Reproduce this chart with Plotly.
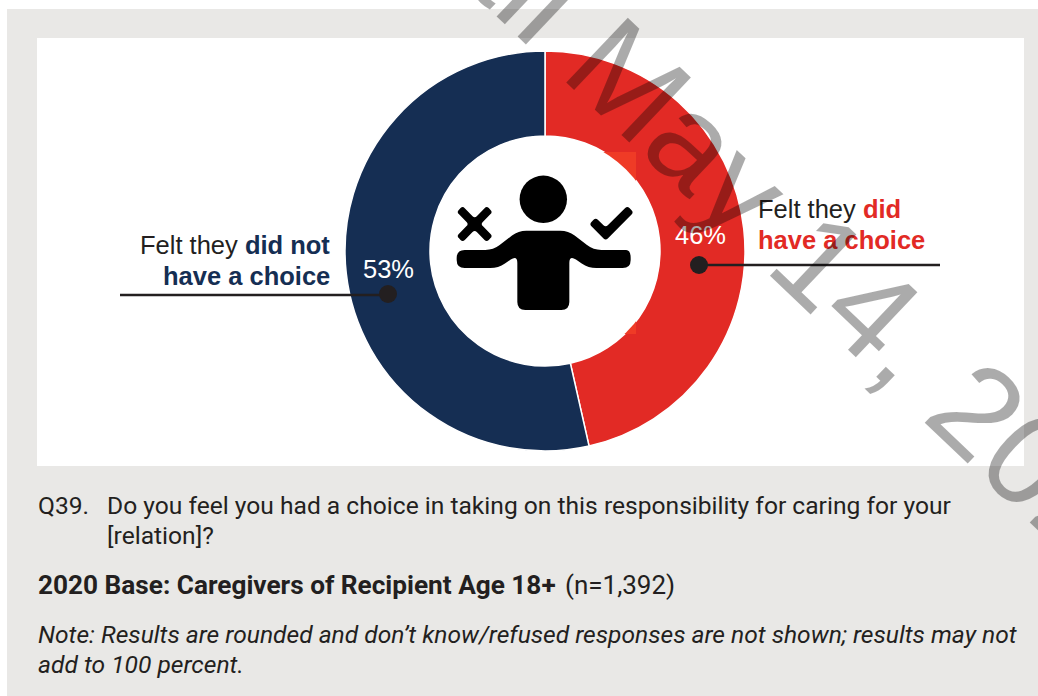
import plotly.graph_objects as go

W, H = 1038, 696

categories = ["Felt they did have a choice", "Felt they did not have a choice"]
values = [46, 53]
colors = ["#e22a25", "#152e53"]
TEXT = "#231f20"
PANEL = "#e9e8e6"


def fx(x):
    return x / W


def fy(y):
    return 1 - y / H


def rect(x0, y0, x1, y1, fill, layer="below"):
    return dict(type="rect", xref="paper", yref="paper", x0=fx(x0), x1=fx(x1), y0=fy(y0), y1=fy(y1),
                fillcolor=fill, line=dict(width=0), layer=layer)


def circle(cx, cy, r, fill):
    return dict(type="circle", xref="paper", yref="paper", x0=fx(cx - r), x1=fx(cx + r),
                y0=fy(cy + r), y1=fy(cy - r), fillcolor=fill, line=dict(width=0), layer="above")


def hline(x0, x1, y):
    return dict(type="line", xref="paper", yref="paper", x0=fx(x0), x1=fx(x1), y0=fy(y), y1=fy(y),
                line=dict(color=TEXT, width=2.5), layer="above")


def rounded(points, r):
    pts = [(430 + x / 3, 150 + y / 3) for x, y in points]
    n = len(pts)
    d = ""
    for i in range(n):
        px, py = pts[i - 1]
        x, y = pts[i]
        nx, ny = pts[(i + 1) % n]
        a = ((px - x) ** 2 + (py - y) ** 2) ** 0.5
        b = ((nx - x) ** 2 + (ny - y) ** 2) ** 0.5
        ra, rb = min(r, a / 2), min(r, b / 2)
        sx, sy = x + (px - x) * ra / a, y + (py - y) * ra / a
        ex, ey = x + (nx - x) * rb / b, y + (ny - y) * rb / b
        d += f"{'M' if i == 0 else 'L'}{fx(sx):.5f},{fy(sy):.5f} Q{fx(x):.5f},{fy(y):.5f} {fx(ex):.5f},{fy(ey):.5f} "
    return dict(type="path", xref="paper", yref="paper", path=d + "Z", fillcolor="#000000",
                line=dict(width=0), layer="above")


body = [(265, 242), (415, 242), (490, 300), (575, 300), (602, 300), (602, 354), (475, 354), (418, 315),
        (418, 480), (262, 480), (262, 315), (205, 354), (80, 354), (80, 300), (190, 300)]
cross = [(98, 168), (134, 205), (170, 168), (188, 186), (152, 222), (188, 258), (170, 276), (134, 240),
         (98, 276), (80, 258), (116, 222), (80, 186)]
check = [(478, 222), (497, 203), (527, 232), (592, 168), (611, 187), (527, 272)]

shapes = [
    rect(7, 9, W, H, PANEL),
    rect(37, 38, 1024, 466, "#ffffff"),
    rect(560, 152, 636, 334, "#ef3b26", "above"),
    circle(545, 251, 115, "#ffffff"),
    circle(543.3, 199.3, 23.7, "#000000"),
    rounded(body, 8),
    rounded(cross, 3),
    rounded(check, 3),
    hline(699, 940, 265),
    hline(120, 388, 295),
    circle(699, 265, 9, TEXT),
    circle(388, 294, 9, TEXT),
]


def note(x, y, text, size, family, color=TEXT, align="left", anchor="left", **kw):
    return dict(xref="paper", yref="paper", x=fx(x), y=fy(y), text=text, showarrow=False, align=align,
                xanchor=anchor, yanchor="middle", font=dict(family=family, size=size, color=color), **kw)


ARIAL = "Liberation Sans"
FOOT = "Roboto"
FS = 24.6
LS = 25.5
annotations = [
    note(756, 209, f'Felt they <b><span style="color:{colors[0]}">did</span></b>', LS, ARIAL),
    note(756, 240, f'<b><span style="color:{colors[0]}">have a choice</span></b>', LS, ARIAL),
    note(332, 245, f'Felt they <b><span style="color:{colors[1]}">did not</span></b>', LS, ARIAL, anchor="right"),
    note(332, 276, f'<b><span style="color:{colors[1]}">have a choice</span></b>', LS, ARIAL, anchor="right"),
    note(700, 235, f"{values[0]}%", LS, ARIAL, "#ffffff", anchor="center"),
    note(388, 269, f"{values[1]}%", LS, ARIAL, "#ffffff", anchor="center"),
    note(36, 505, "Q39.", FS, FOOT),
    note(105, 505, "Do you feel you had a choice in taking on this responsibility for caring for your", FS, FOOT),
    note(105, 535, "[relation]?", FS, FOOT),
    note(36, 585, "<b>2020 Base: Caregivers of Recipient Age 18+</b>", 26.2, FOOT),
    note(563, 585, "(n=1,392)", 26, FOOT),
    note(36, 634, "<i>Note: Results are rounded and don’t know/refused responses are not shown; results may not</i>", FS, FOOT),
    note(36, 664, "<i>add to 100 percent.</i>", FS, FOOT),
    note(828, 269, "til May 14, 2020", 130, ARIAL, "rgba(0,0,0,0.33)", anchor="center", textangle=43.5),
]

fig = go.Figure(go.Pie(
    labels=categories,
    values=values,
    sort=False,
    direction="clockwise",
    rotation=0,
    hole=0.575,
    textinfo="none",
    marker=dict(colors=colors, line=dict(color="#ffffff", width=1.5)),
    domain=dict(x=[fx(345), fx(745)], y=[fy(451), fy(51)]),
    showlegend=False,
))
fig.update_layout(width=W, height=H, margin=dict(l=0, r=0, t=0, b=0), paper_bgcolor="#ffffff",
                  shapes=shapes, annotations=annotations)
fig.write_html("out.html", config=dict(displayModeBar=False),
               post_script="document.body.style.margin='0';document.body.style.overflow='hidden';")
